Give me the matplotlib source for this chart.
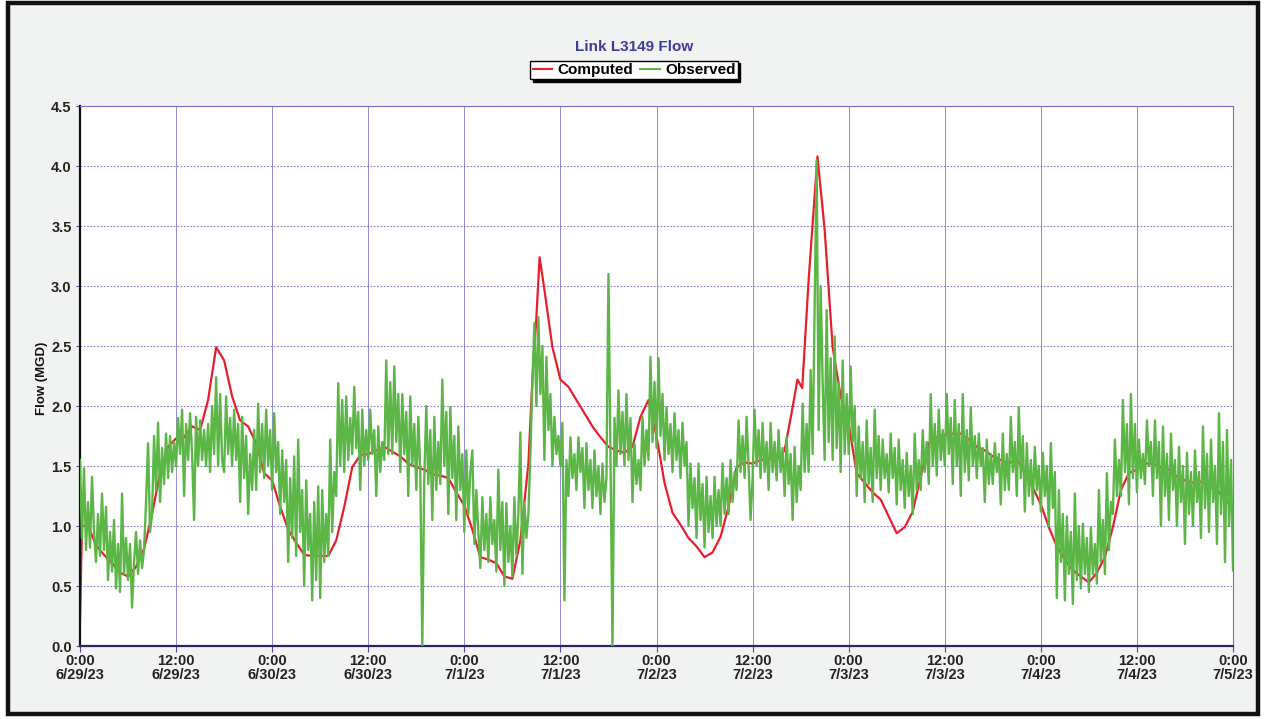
import matplotlib
matplotlib.use("Agg")
import matplotlib.pyplot as plt
import matplotlib.dates as mdates
import matplotlib.patches as mpatches
import numpy as np
import pandas as pd

plt.rcParams['font.family'] = ['Liberation Sans', 'DejaVu Sans']

# ---------------- data ----------------
start = pd.Timestamp("2023-06-29 00:00")
end = pd.Timestamp("2023-07-05 00:00")

title = "Link L3149 Flow"
ylabel = "Flow (MGD)"
series_names = ["Computed", "Observed"]
y_ticks = [0.0, 0.5, 1.0, 1.5, 2.0, 2.5, 3.0, 3.5, 4.0, 4.5]

# Computed flow: hours after start and values (MGD)
comp_hours = [0, 0.25, 1, 2, 3, 4, 5, 6, 7, 8, 9, 10, 11, 12, 13, 14, 15, 16, 17, 18, 19, 20, 21, 22, 23,
              24, 25, 26, 27, 28, 29, 30, 31, 32, 33, 34, 35, 36, 37, 38, 39, 40, 41, 42, 43, 44, 45, 46, 47,
              48, 49, 50, 51, 52, 53, 54, 55, 56, 56.5, 57, 57.4, 58, 59, 60, 61, 62, 63, 64, 65, 66, 67, 68,
              69, 70, 71, 72, 73, 74, 75, 76, 77, 78, 79, 80, 81, 82, 83, 84, 85, 86, 87, 88, 89, 89.6, 90.2,
              91, 92.1, 93, 94, 95, 96, 97, 98, 99, 100, 101, 102, 103, 104, 105, 106, 107, 108, 109, 110,
              111, 112, 113, 114, 115, 116, 117, 118, 119, 120, 121, 122, 123, 124, 125, 126, 127, 128, 129,
              130, 131, 132, 133, 134, 135, 136, 137, 138, 139, 140, 141, 142, 143, 144]
comp_vals = [0.20, 1.00, 1.00, 0.84, 0.76, 0.69, 0.61, 0.58, 0.66, 0.81, 1.10, 1.44, 1.66, 1.73, 1.74, 1.83,
             1.80, 2.05, 2.49, 2.38, 2.08, 1.88, 1.83, 1.69, 1.44,
             1.38, 1.16, 0.97, 0.86, 0.76, 0.75, 0.75, 0.75, 0.88, 1.16, 1.49, 1.59, 1.60, 1.63, 1.66, 1.62,
             1.58, 1.52, 1.49, 1.47, 1.43, 1.42, 1.40, 1.28,
             1.17, 0.97, 0.74, 0.72, 0.69, 0.58, 0.56, 0.88, 1.52, 2.22, 2.74, 3.24, 2.97, 2.49, 2.22, 2.16,
             2.05, 1.94, 1.83, 1.74, 1.66, 1.63, 1.61, 1.66, 1.91, 2.05,
             1.75, 1.36, 1.11, 1.01, 0.90, 0.83, 0.74, 0.78, 0.91, 1.16, 1.49, 1.53, 1.52, 1.55, 1.56, 1.55,
             1.63, 1.99, 2.22, 2.15, 3.05, 4.08, 3.47, 2.49, 2.08,
             1.85, 1.44, 1.36, 1.28, 1.22, 1.08, 0.94, 0.99, 1.12, 1.41, 1.69, 1.74, 1.76, 1.77, 1.77, 1.72,
             1.66, 1.63, 1.58, 1.55, 1.52, 1.56, 1.44, 1.32,
             1.18, 0.99, 0.83, 0.72, 0.63, 0.58, 0.53, 0.61, 0.74, 0.99, 1.30, 1.44, 1.47, 1.52, 1.52, 1.49,
             1.47, 1.41, 1.38, 1.36, 1.37, 1.33, 1.30, 1.22, 1.15]

# Observed flow, 15-minute readings, one list per day (96 values each)
obs_day1 = [1.55, 0.90, 1.48, 0.80, 1.20, 0.82, 1.41, 0.95, 0.70, 1.10, 0.75, 1.27, 0.80, 1.16, 0.55, 0.95,
            0.62, 1.05, 0.48, 0.85, 0.45, 1.27, 0.60, 0.90, 0.55, 0.85, 0.32, 0.70, 0.95, 0.60, 0.88, 0.65,
            0.80, 1.20, 1.69, 0.95, 1.10, 1.75, 1.30, 1.86, 1.20, 1.65, 1.35, 1.77, 1.40, 1.75, 1.45, 1.70,
            1.50, 1.90, 1.60, 1.97, 1.25, 1.85, 1.55, 1.94, 1.60, 1.05, 1.91, 1.50, 1.88, 1.55, 1.80, 1.50,
            1.85, 1.45, 2.00, 1.60, 2.24, 1.50, 2.10, 1.55, 1.45, 2.08, 1.60, 1.90, 1.50, 1.97, 1.55, 1.85,
            1.20, 1.91, 1.40, 1.75, 1.10, 1.60, 1.30, 1.80, 1.30, 2.02, 1.45, 1.85, 1.40, 1.97, 1.50, 1.80]
obs_day2 = [1.30, 1.94, 1.45, 1.70, 1.10, 1.63, 1.20, 1.55, 0.70, 1.40, 0.90, 1.58, 0.75, 1.72, 0.95, 1.30,
            0.50, 1.38, 0.80, 1.10, 0.38, 1.20, 0.55, 1.33, 0.40, 1.30, 0.70, 1.10, 0.75, 1.72, 0.95, 1.45,
            1.25, 2.19, 1.50, 2.05, 1.45, 2.08, 1.55, 1.90, 1.60, 2.16, 1.65, 1.95, 1.30, 1.97, 1.50, 1.80,
            1.55, 1.97, 1.60, 1.80, 1.25, 1.83, 1.45, 1.70, 1.55, 2.38, 1.60, 2.20, 1.60, 2.33, 1.70, 2.10,
            1.45, 2.10, 1.60, 1.95, 1.25, 2.08, 1.50, 1.85, 1.30, 1.91, 1.45, 0.00, 1.40, 2.00, 1.35, 1.80,
            1.05, 1.91, 1.30, 1.70, 1.35, 2.22, 1.50, 1.95, 1.10, 1.99, 1.40, 1.75, 1.05, 1.83, 1.30, 1.60]
obs_day3 = [0.95, 1.63, 1.10, 1.45, 1.63, 0.85, 1.30, 0.95, 0.65, 1.24, 0.80, 1.10, 0.70, 1.24, 0.85, 1.05,
            0.62, 1.47, 0.80, 1.20, 0.50, 1.19, 0.70, 1.00, 0.58, 1.24, 0.75, 1.10, 1.78, 0.60, 1.20, 0.90,
            1.10, 1.60, 2.20, 2.69, 2.00, 2.74, 2.10, 2.50, 1.55, 2.41, 1.80, 2.10, 1.50, 1.91, 1.60, 1.75,
            1.50, 1.86, 0.38, 1.55, 1.25, 1.74, 1.40, 1.60, 1.30, 1.74, 1.45, 1.65, 1.15, 1.69, 1.30, 1.55,
            1.15, 1.63, 1.25, 1.50, 1.10, 1.52, 1.20, 1.40, 3.10, 1.60, 0.00, 1.90, 1.50, 2.13, 1.60, 1.95,
            1.50, 2.10, 1.55, 1.90, 1.20, 1.69, 1.35, 1.55, 1.30, 1.91, 1.50, 1.80, 1.55, 2.41, 1.70, 2.20]
obs_day4 = [1.65, 2.40, 1.75, 2.10, 1.55, 1.99, 1.60, 1.85, 1.45, 1.94, 1.55, 1.80, 1.40, 1.86, 1.50, 1.70,
            1.00, 1.52, 1.15, 1.40, 0.90, 1.52, 1.05, 1.35, 0.82, 1.41, 0.95, 1.25, 0.90, 1.41, 1.00, 1.30,
            1.00, 1.52, 1.10, 1.40, 1.10, 1.55, 1.20, 1.45, 1.30, 1.88, 1.45, 1.75, 1.40, 1.91, 1.50, 1.05,
            1.40, 1.97, 1.50, 1.80, 1.40, 1.86, 1.45, 1.70, 1.30, 1.86, 1.45, 1.70, 1.38, 1.80, 1.45, 1.65,
            1.25, 1.74, 1.35, 1.60, 1.05, 1.66, 1.20, 1.50, 1.30, 2.02, 1.45, 1.85, 1.45, 2.30, 1.60, 2.80,
            4.05, 1.80, 3.00, 2.20, 1.55, 2.80, 1.70, 2.40, 1.55, 2.58, 1.65, 2.20, 1.45, 2.38, 1.60, 2.10]
obs_day5 = [1.60, 2.33, 1.70, 2.00, 1.25, 1.83, 1.40, 1.70, 1.20, 1.88, 1.35, 1.65, 1.20, 1.97, 1.40, 1.75,
            1.30, 1.72, 1.40, 1.60, 1.28, 1.77, 1.40, 1.65, 1.18, 1.72, 1.30, 1.55, 1.15, 1.61, 1.25, 1.50,
            1.10, 1.77, 1.30, 1.55, 1.30, 1.80, 1.45, 1.70, 1.35, 2.10, 1.50, 1.85, 1.42, 1.97, 1.55, 1.80,
            1.50, 2.10, 1.60, 1.90, 1.35, 2.05, 1.50, 1.85, 1.25, 2.10, 1.45, 1.80, 1.38, 1.99, 1.50, 1.75,
            1.40, 1.77, 1.50, 1.65, 1.20, 1.72, 1.35, 1.60, 1.35, 1.69, 1.45, 1.60, 1.18, 1.77, 1.30, 1.60,
            1.30, 1.91, 1.45, 1.70, 1.25, 1.99, 1.40, 1.75, 1.12, 1.69, 1.25, 1.55, 1.18, 1.66, 1.30, 1.50]
obs_day6 = [1.12, 1.61, 1.25, 1.50, 1.00, 1.69, 1.15, 1.45, 0.40, 1.30, 0.70, 1.10, 0.38, 1.08, 0.60, 0.95,
            0.35, 1.27, 0.55, 1.00, 0.48, 1.02, 0.60, 0.90, 0.45, 0.99, 0.60, 0.85, 0.52, 1.30, 0.70, 1.05,
            0.60, 1.44, 0.80, 1.20, 1.10, 1.72, 1.25, 1.55, 1.25, 2.05, 1.45, 1.85, 1.18, 2.10, 1.40, 1.85,
            1.28, 1.72, 1.40, 1.60, 1.35, 1.88, 1.50, 1.70, 1.25, 1.88, 1.40, 1.70, 1.00, 1.83, 1.25, 1.60,
            1.05, 1.77, 1.30, 1.55, 1.00, 1.66, 1.20, 1.50, 0.85, 1.61, 1.10, 1.45, 1.00, 1.63, 1.20, 1.45,
            0.90, 1.83, 1.15, 1.60, 0.95, 1.72, 1.20, 1.50, 0.85, 1.94, 1.10, 1.70, 0.70, 1.80, 1.00, 1.55]
obs_last = [0.63]

# ---------------- styling ----------------
comp_color = "#e5202b"
obs_color = "#5cb646"
grid_color = "#7a6cc4"
bg_color = "#f1f3f3"

obs_vals = obs_day1 + obs_day2 + obs_day3 + obs_day4 + obs_day5 + obs_day6 + obs_last
obs_times = pd.date_range(start, end, freq="15min")
comp_times = start + pd.to_timedelta(comp_hours, unit="h")

fig = plt.figure(figsize=(12.65, 7.19), dpi=100, facecolor="white")
fig.patches.append(mpatches.Rectangle((8 / 1265, 1 - 714 / 719), 1250 / 1265, 711 / 719,
                                      transform=fig.transFigure, facecolor=bg_color,
                                      edgecolor="#111111", linewidth=3.2, zorder=-10))

ax = fig.add_axes([80 / 1265, 1 - 646 / 719, 1153 / 1265, 540 / 719])
ax.set_facecolor("white")

ax.plot(obs_times, obs_vals, color=obs_color, linewidth=1.7, zorder=3, label=series_names[1])
ax.plot(comp_times, comp_vals, color=comp_color, linewidth=1.6, zorder=2, label=series_names[0])

ax.set_xlim(start, end)
ax.set_ylim(0, 4.5)
ax.set_yticks(y_ticks)
ax.set_yticklabels([f"{v:.1f}" for v in y_ticks])

ax.xaxis.set_major_locator(mdates.HourLocator(byhour=[0, 12]))
def fmt(x, pos=None):
    d = mdates.num2date(x)
    return f"{d.hour}:{d.minute:02d}\n{d.month}/{d.day}/{d.year % 100}"
ax.xaxis.set_major_formatter(plt.FuncFormatter(fmt))

for lab in ax.get_xticklabels() + ax.get_yticklabels():
    lab.set_fontweight("bold")
    lab.set_color("#222222")
ax.tick_params(axis="x", labelsize=10.5, length=4, width=0.8, color="#5a4aa0", pad=1.5)
ax.tick_params(axis="y", labelsize=10.5, length=3, width=0.8, color="#5a4aa0", pad=3)
for lab in ax.get_xticklabels():
    lab.set_linespacing(1.0)

ax.grid(axis="x", color=grid_color, linewidth=0.7, linestyle="-", alpha=0.8, zorder=1)
ax.grid(axis="y", color=grid_color, linewidth=0.8, linestyle=(0, (1.5, 1.5)), alpha=0.9, zorder=1)
ax.set_axisbelow(True)

ax.spines["left"].set_color("#111111")
ax.spines["left"].set_linewidth(1.6)
ax.spines["bottom"].set_color("#2c2560")
ax.spines["bottom"].set_linewidth(1.6)
ax.spines["top"].set_color(grid_color)
ax.spines["top"].set_linewidth(0.8)
ax.spines["right"].set_color(grid_color)
ax.spines["right"].set_linewidth(0.8)

fig.text(634 / 1265, 1 - 47 / 719, title, ha="center", va="center", fontsize=11,
         fontweight="bold", color="#3d3c98")
fig.text(42 / 1265, 1 - 378 / 719, ylabel, ha="center", va="center", rotation=90,
         fontsize=9.5, fontweight="bold", color="#111111")

h, l = ax.get_legend_handles_labels()
order = [1, 0]
leg = fig.legend([h[i] for i in order], [l[i] for i in order], loc="center",
                 bbox_to_anchor=(634 / 1265, 1 - 70 / 719), ncol=2, frameon=True, fancybox=False,
                 shadow={"color": "black", "alpha": 1.0}, edgecolor="black", facecolor="white",
                 prop={"weight": "bold", "size": 11}, handlelength=1.3, handletextpad=0.3,
                 columnspacing=0.5, borderpad=0.15, borderaxespad=0)
leg.get_frame().set_linewidth(1.0)
for line in leg.get_lines():
    line.set_linewidth(1.5)

fig.savefig("out.png", dpi=100, facecolor=fig.get_facecolor())
